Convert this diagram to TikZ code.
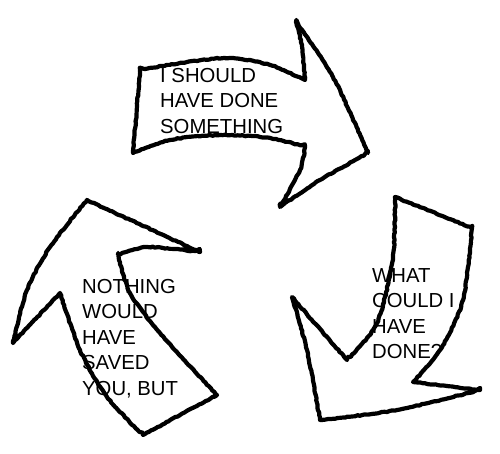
\documentclass[tikz,border=0pt]{standalone}
\usepackage{fontspec}
\setmainfont{Liberation Sans}
\usetikzlibrary{decorations.pathmorphing}
\tikzset{
  arrowshape/.style={draw=black, fill=white, line width=4.2pt, line join=round, line cap=round,
    decorate, decoration={random steps, segment length=2.5pt, amplitude=0.5pt}},
  label/.style={anchor=north west, inner sep=0pt, align=left, font=\fontsize{20.3}{25.5}\selectfont}
}
\begin{document}
\begin{tikzpicture}[x=1pt,y=-1pt]
\useasboundingbox (0,0) rectangle (500,453);
% top arrow
\draw[arrowshape] (140,70) -- plot[smooth] coordinates {(140,70) (187,62) (230,58) (270,65) (305,80)}
  -- (302,45) -- (296,22)
  -- plot[smooth] coordinates {(296,22) (333,77) (368,153)}
  -- plot[smooth] coordinates {(368,153) (320,180) (280,207)}
  -- plot[smooth] coordinates {(280,207) (300,170) (305,147)}
  -- plot[smooth] coordinates {(305,147) (270,138) (220,135) (170,140) (133,153)}
  -- cycle;
% right arrow
\draw[arrowshape] (395,197) -- (472,228)
  -- plot[smooth] coordinates {(472,228) (463,300) (440,350) (413,382)}
  -- (480,390)
  -- plot[smooth] coordinates {(480,390) (397,410) (320,420)}
  -- plot[smooth] coordinates {(320,420) (307,350) (292,297)}
  -- (347,360)
  -- plot[smooth] coordinates {(347,360) (377,323) (393,257) (395,197)}
  -- cycle;
% left arrow
\draw[arrowshape] (87,200) -- (200,252)
  -- plot[smooth] coordinates {(200,252) (147,247) (118,255)}
  -- plot[smooth] coordinates {(118,255) (130,293) (160,333) (217,395)}
  -- (143,435)
  -- plot[smooth] coordinates {(143,435) (107,397) (80,350) (60,293)}
  -- (13,343)
  -- plot[smooth] coordinates {(13,343) (27,290) (50,247) (87,200)}
  -- cycle;
\node[label] (t1) at (160,68) {I SHOULD\\HAVE DONE\\SOMETHING};
\node[label] (t2) at (372,268) {WHAT\\COULD I\\HAVE\\DONE?};
\node[label] (t3) at (82,279) {NOTHING\\WOULD\\HAVE\\SAVED\\YOU, BUT};
\end{tikzpicture}
\end{document}
